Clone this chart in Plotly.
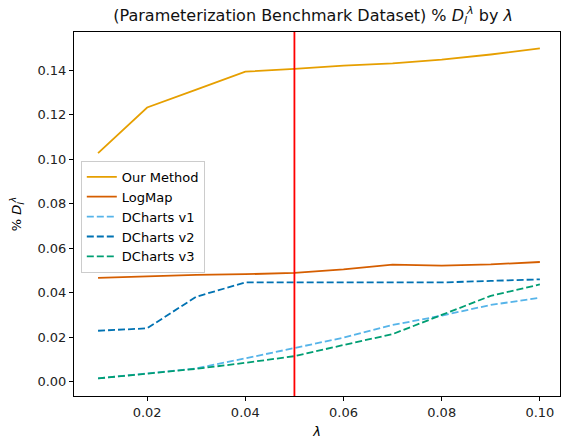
import plotly.graph_objects as go

lam = [0.01, 0.02, 0.03, 0.04, 0.05, 0.06, 0.07, 0.08, 0.09, 0.10]
our_method = [0.1027, 0.1232, 0.1312, 0.1393, 0.1405, 0.1420, 0.1430, 0.1447, 0.1470, 0.1497]
logmap = [0.0467, 0.0475, 0.0480, 0.0483, 0.0489, 0.0505, 0.0526, 0.0522, 0.0527, 0.0538]
dcharts_v1 = [0.0015, 0.0036, 0.0060, 0.0105, 0.0153, 0.0198, 0.0255, 0.0297, 0.0345, 0.0377]
dcharts_v2 = [0.0229, 0.0240, 0.0382, 0.0446, 0.0446, 0.0446, 0.0446, 0.0446, 0.0453, 0.0460]
dcharts_v3 = [0.0015, 0.0036, 0.0058, 0.0085, 0.0115, 0.0165, 0.0214, 0.0300, 0.0386, 0.0437]
threshold = 0.05

x_ticks = [0.02, 0.04, 0.06, 0.08, 0.10]
x_labels = ["0.02", "0.04", "0.06", "0.08", "0.10"]
y_ticks = [0.00, 0.02, 0.04, 0.06, 0.08, 0.10, 0.12, 0.14]
y_labels = ["0.00", "0.02", "0.04", "0.06", "0.08", "0.10", "0.12", "0.14"]

series = [
    ("Our Method", our_method, "#E69F00", "solid"),
    ("LogMap", logmap, "#D55E00", "solid"),
    ("DCharts v1", dcharts_v1, "#56B4E9", "7px,3px"),
    ("DCharts v2", dcharts_v2, "#0072B2", "7px,3px"),
    ("DCharts v3", dcharts_v3, "#009E73", "7px,3px"),
]

fig = go.Figure()
for name, ys, color, dash in series:
    fig.add_trace(go.Scatter(x=lam, y=ys, mode="lines", name=name,
                             line=dict(color=color, width=1.8, dash=dash)))

fig.add_vline(x=threshold, line=dict(color="red", width=1.8))

axis_common = dict(showline=True, linecolor="black", linewidth=1, mirror=True,
                   ticks="outside", ticklen=4, tickcolor="black", showgrid=False,
                   zeroline=False, automargin=False, tickfont=dict(size=13, color="#222"))

fig.update_layout(
    width=562, height=439,
    margin=dict(l=74, r=2, t=32, b=43),
    paper_bgcolor="white", plot_bgcolor="white",
    font=dict(family="DejaVu Sans", color="black"),
    title=dict(text="(Parameterization Benchmark Dataset) % <i>D</i><sub><i>l</i></sub><sup><i>λ</i></sup> by <i>λ</i>",
               x=0.492, xanchor="center", xref="paper", y=0.966, yref="container", yanchor="middle",
               font=dict(size=16, color="#111"), automargin=False),
    xaxis=dict(range=[0.0051, 0.1041], tickvals=x_ticks, ticktext=x_labels,
               title=dict(text="<i>λ</i>", font=dict(size=13), standoff=10), **axis_common),
    yaxis=dict(range=[-0.0064, 0.1571], tickvals=y_ticks, ticktext=y_labels,
               title=dict(text="% <i>D</i><sub><i>l</i></sub><sup><i>λ</i></sup>", font=dict(size=13), standoff=12),
               **axis_common),
    legend=dict(x=0.014, y=0.646, xanchor="left", yanchor="top",
                bgcolor="rgba(255,255,255,0.8)", bordercolor="#ccc", borderwidth=1,
                font=dict(size=13), tracegroupgap=0),
    showlegend=True,
)

fig.write_html("out.html", config={"displayModeBar": False},
               post_script="document.body.style.margin='0';")
